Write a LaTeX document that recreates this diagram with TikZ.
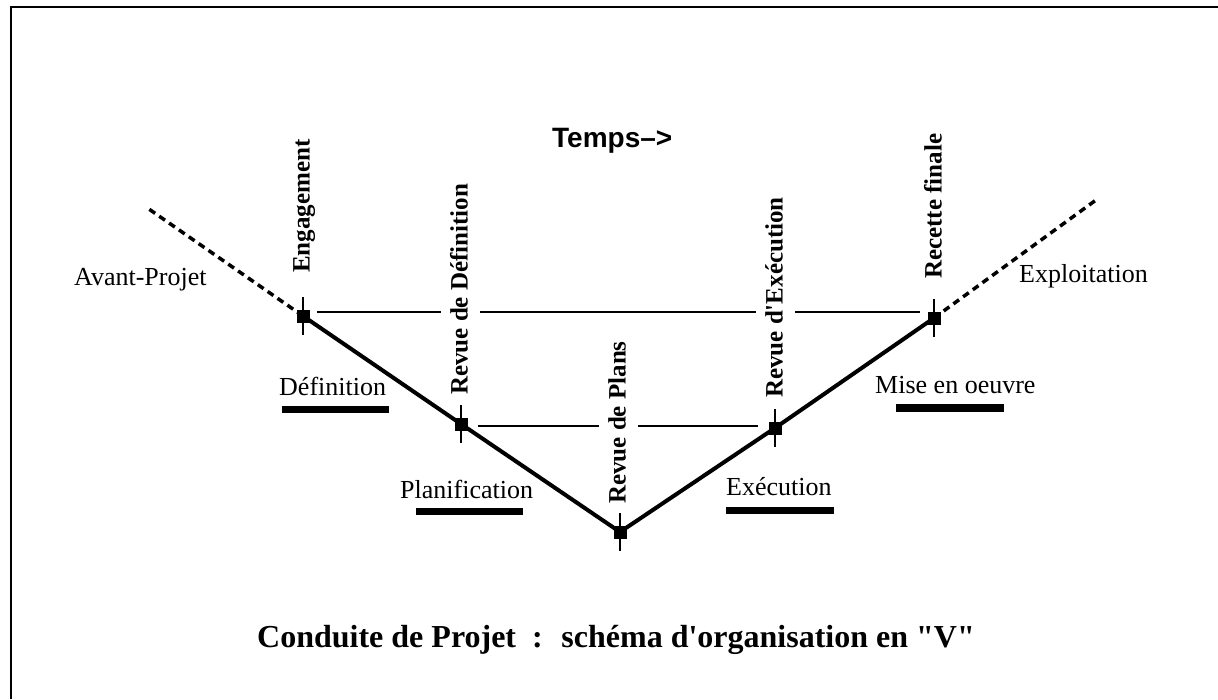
\documentclass[tikz,border=0pt]{standalone}
\usepackage{fontspec}
\setmainfont{Liberation Serif}[Ligatures=TeXOff]
\newfontfamily\sansfam{Liberation Sans}[Ligatures=TeXOff]
\begin{document}
\begin{tikzpicture}[x=1pt,y=-1pt,
  phase/.style={font=\fontsize{26}{30}\selectfont, anchor=base west, inner sep=0pt},
  review/.style={font=\bfseries\fontsize{25}{30}\selectfont, rotate=90, anchor=west, fill=white,
                 inner xsep=0pt, inner ysep=9pt, text height=18pt, text depth=3pt},
  milestone/.style={fill=black, minimum size=13pt, inner sep=0pt},
  vline/.style={line width=4pt, line join=round},
  thinline/.style={line width=1.3pt},
  tickline/.style={line width=1.5pt},
  ext/.style={line width=3.5pt, dash pattern=on 7pt off 5pt},
  bar/.style={fill=black},
  frame/.style={line width=2.5pt}
]
\useasboundingbox (0,0) rectangle (1218,699);
\fill[white] (0,0) rectangle (1218,699);
% frame
\draw[frame] (11,699) -- (11,7) -- (1218,7);

% milestones
\node[milestone] (eng)  at (303,316) {};
\node[milestone] (def)  at (461,424) {};
\node[milestone] (plan) at (620,532) {};
\node[milestone] (exe)  at (775,428) {};
\node[milestone] (rec)  at (934,318) {};

% ticks
\foreach \n in {eng,def,plan,exe,rec}
  \draw[tickline] (\n.center) ++(0,-19) -- ++(0,38);

% horizontal reference lines
\coordinate (t1) at (317,312);
\coordinate (t2) at (920,312);
\coordinate (b1) at (478,426);
\coordinate (b2) at (758,426);
\draw[thinline] (t1) -- (t2);
\draw[thinline] (b1) -- (b2);

% V
\draw[vline] (eng.center) -- (def.center) -- (plan.center) -- (exe.center) -- (rec.center);

% extensions
\coordinate (extL) at (146,207);
\coordinate (extR) at (1096,200);
\draw[ext] (eng.center) -- (extL);
\draw[ext] (rec.center) -- (extR);

% review labels
\node[review] (lEng)  at (302,273) {Engagement};
\node[review] (lDef)  at (460,395) {Revue de Définition};
\node[review] (lPlan) at (618,504) {Revue de Plans};
\node[review] (lExe)  at (775,398) {Revue d'Exécution};
\node[review] (lRec)  at (934,279) {Recette finale};

% phase labels
\node[phase] (avp) at (74,285)  {Avant-Projet};
\node[phase] (exp) at (1019,282) {Exploitation};
\node[phase] (pdef) at (279,395) {Définition};
\node[phase] (pmise) at (875,393) {Mise en oeuvre};
\node[phase] (pplan) at (400,498) {Planification};
\node[phase] (pexe) at (726,495) {Exécution};

% bars
\fill[bar] (282,406) rectangle (389,413);
\fill[bar] (896,404) rectangle (1004,412);
\fill[bar] (416,508) rectangle (523,515);
\fill[bar] (726,507) rectangle (834,514);

% time
\node[font=\sansfam\bfseries\fontsize{28}{32}\selectfont, anchor=base west, inner sep=0pt] (temps) at (552,147) {Temps\textendash>};

% title
\node[font=\bfseries\fontsize{32}{38}\selectfont, anchor=base, inner sep=0pt] (title) at (616,647)
  {Conduite de Projet \ : \ schéma d'organisation en "V"};
\end{tikzpicture}
\end{document}
